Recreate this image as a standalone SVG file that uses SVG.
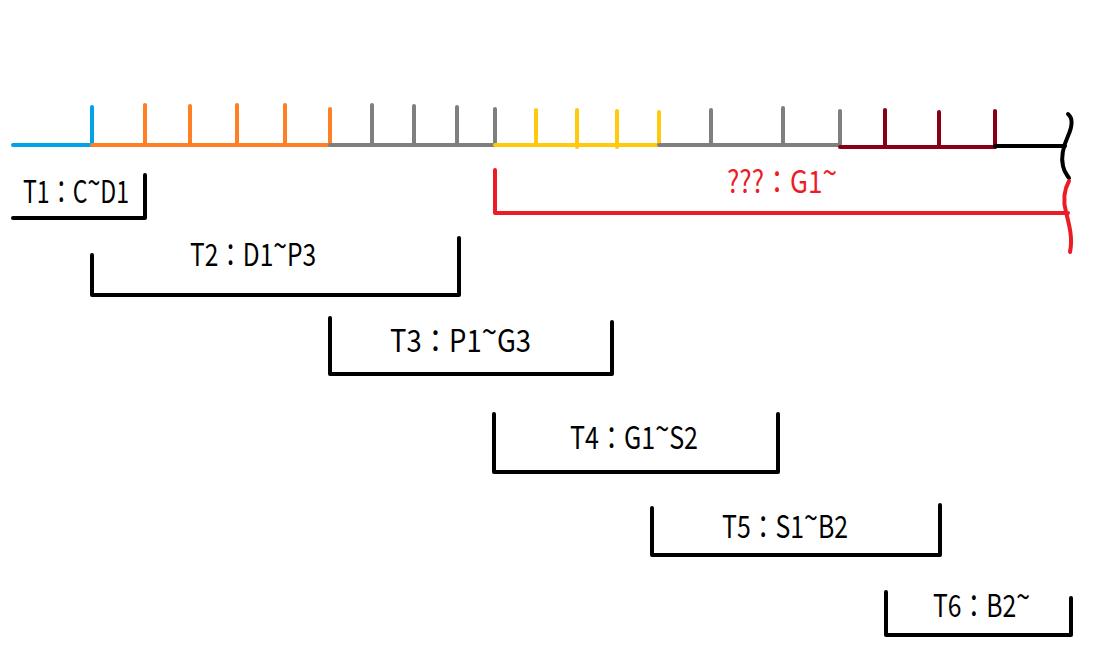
<svg xmlns="http://www.w3.org/2000/svg" width="1119" height="668" viewBox="0 0 1119 668">
<style>
  line, path, polyline { fill: none; stroke-width: 4; stroke-linecap: round; stroke-linejoin: round; }
  .blue { stroke: #00a2e8; }
  .orange { stroke: #ff7f27; }
  .gray { stroke: #7f7f7f; }
  .yellow { stroke: #ffc90e; }
  .dred { stroke: #880015; }
  .blk { stroke: #000000; }
  .red { stroke: #ed1c24; }
  .lbl { font-family: "Noto Sans CJK JP", "Liberation Sans", sans-serif; font-size: 31px; fill: #000000; }
  .lbl-red { fill: #ed1c24; }
</style>
<rect width="1119" height="668" fill="#ffffff"/>

<g id="timeline">
  <line class="blue" x1="13" y1="145" x2="92" y2="145"/>
  <line class="blue" x1="92" y1="107" x2="92" y2="145"/>

  <line class="orange" x1="92" y1="145" x2="330" y2="145"/>
  <line class="orange" x1="145" y1="105" x2="145" y2="145"/>
  <line class="orange" x1="190" y1="106" x2="190" y2="145"/>
  <line class="orange" x1="237" y1="105" x2="237" y2="145"/>
  <line class="orange" x1="285" y1="105" x2="285" y2="145"/>
  <line class="orange" x1="330" y1="109" x2="330" y2="145"/>

  <line class="gray" x1="330" y1="145" x2="495" y2="145"/>
  <line class="gray" x1="372" y1="105" x2="372" y2="145"/>
  <line class="gray" x1="414" y1="106" x2="414" y2="145"/>
  <line class="gray" x1="457" y1="107" x2="457" y2="145"/>
  <line class="gray" x1="495" y1="109" x2="495" y2="145"/>

  <line class="yellow" x1="495" y1="145" x2="659" y2="145"/>
  <line class="yellow" x1="536" y1="110" x2="536" y2="145"/>
  <line class="yellow" x1="577" y1="110" x2="577" y2="147"/>
  <line class="yellow" x1="617" y1="111" x2="617" y2="147"/>
  <line class="yellow" x1="659" y1="112" x2="659" y2="145"/>

  <line class="gray" x1="659" y1="145" x2="840" y2="145"/>
  <line class="gray" x1="711" y1="110" x2="711" y2="145"/>
  <line class="gray" x1="783" y1="108" x2="783" y2="145"/>
  <line class="gray" x1="840" y1="111" x2="840" y2="145"/>

  <line class="dred" x1="840" y1="147" x2="995" y2="147"/>
  <line class="dred" x1="885" y1="110" x2="885" y2="147"/>
  <line class="dred" x1="939" y1="112" x2="939" y2="147"/>
  <line class="dred" x1="995" y1="111" x2="995" y2="147"/>

  <line class="blk" x1="995" y1="146" x2="1065" y2="146"/>
  <path class="blk" d="M1068,114 C1074,119 1072,127 1068,136 C1063,147 1061,158 1063,166 C1064,172 1067,175 1069,178"/>
</g>

<g id="node-unknown">
  <polyline class="red" points="495,170 495,213 1068,213"/>
  <path class="red" d="M1069,181 C1064,190 1063,201 1066,212 C1069,224 1073,238 1070,252"/>
  <text class="lbl lbl-red" x="727" y="193" textLength="110" lengthAdjust="spacingAndGlyphs">???：G1<tspan dy="-9">~</tspan></text>
</g>

<g id="node-t1">
  <polyline class="blk" points="13,218 145,218 145,175"/>
  <text class="lbl" x="23" y="203" textLength="106" lengthAdjust="spacingAndGlyphs">T1：C<tspan dy="-9">~</tspan><tspan dy="9">D1</tspan></text>
</g>

<g id="node-t2">
  <polyline class="blk" points="92,255 92,295 459,295 459,238"/>
  <text class="lbl" x="190" y="266" textLength="126" lengthAdjust="spacingAndGlyphs">T2：D1<tspan dy="-9">~</tspan><tspan dy="9">P3</tspan></text>
</g>

<g id="node-t3">
  <polyline class="blk" points="330,318 330,374 612,374 612,322"/>
  <text class="lbl" x="390" y="352" textLength="141" lengthAdjust="spacingAndGlyphs">T3：P1<tspan dy="-9">~</tspan><tspan dy="9">G3</tspan></text>
</g>

<g id="node-t4">
  <polyline class="blk" points="494,414 494,472 778,472 778,414"/>
  <text class="lbl" x="570" y="449" textLength="128" lengthAdjust="spacingAndGlyphs">T4：G1<tspan dy="-9">~</tspan><tspan dy="9">S2</tspan></text>
</g>

<g id="node-t5">
  <polyline class="blk" points="652,508 652,555 940,555 940,505"/>
  <text class="lbl" x="722" y="538" textLength="126" lengthAdjust="spacingAndGlyphs">T5：S1<tspan dy="-9">~</tspan><tspan dy="9">B2</tspan></text>
</g>

<g id="node-t6">
  <polyline class="blk" points="886,592 886,635 1071,635 1071,598"/>
  <text class="lbl" x="933" y="617" textLength="97" lengthAdjust="spacingAndGlyphs">T6：B2<tspan dy="-9">~</tspan></text>
</g>
</svg>
